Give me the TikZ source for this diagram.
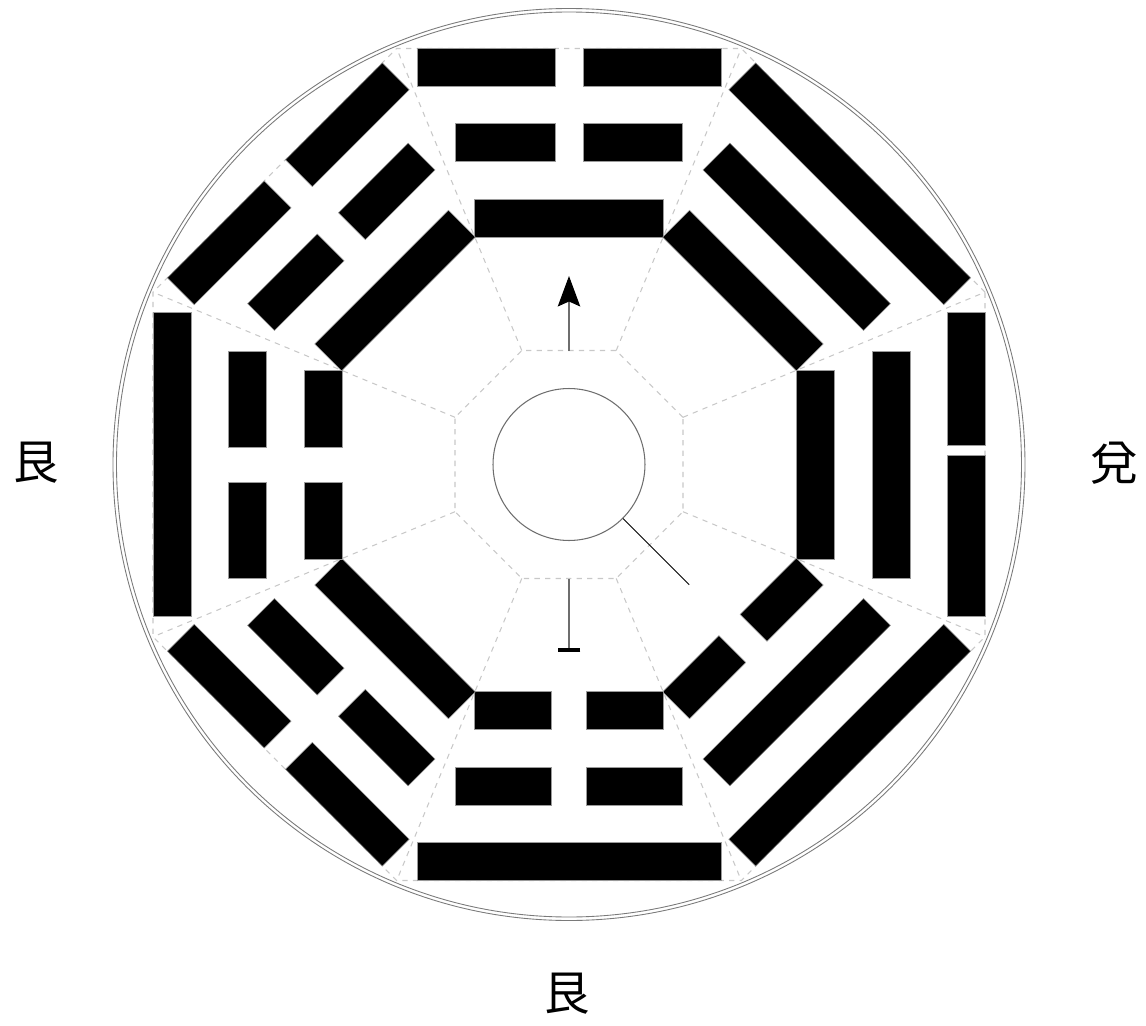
\documentclass[tikz,border=0pt]{standalone}
\usepackage{fontspec}
\newfontfamily\cjk{Noto Sans CJK JP}
\usepackage{xcolor}
\usepackage{tikz}
\usetikzlibrary{arrows.meta}
\definecolor{baguarim}{HTML}{7A7A7A}
\definecolor{baguadash}{HTML}{C8C8C8}
\definecolor{baguaaxis}{HTML}{6E6E6E}
\definecolor{baguaedge}{HTML}{9A9A9A}

\tikzset{
  yaobar/.style={fill=black,draw=baguaedge,line width=0.3pt},
  sector/.style={draw=baguadash,dashed,line width=0.6pt},
  rim/.style={draw=baguarim,line width=0.5pt},
  axisline/.style={draw=baguaaxis,line width=0.6pt},
  trigramlabel/.style={font=\cjk\fontsize{27}{27}\selectfont,inner sep=0pt}
}

% one line of a trigram: radius, length, 1 = solid / 0 = broken, gap, gap offset
\newcommand{\bagline}[5]{%
  \ifnum#3=1
    \path[yaobar] (-#2/2,#1-19) rectangle (#2/2,#1+19);
  \else
    \path[yaobar] (-#2/2,#1-19) rectangle (#5-#4/2,#1+19);
    \path[yaobar] (#5+#4/2,#1-19) rectangle (#2/2,#1+19);
  \fi}

\begin{document}
\begin{tikzpicture}[x=0.02cm,y=0.02cm,>=Stealth]
    \useasboundingbox (-569,-560.5) rectangle (577,464.5);
    % double rim
    \draw[rim] (0,0) circle (456);
    \draw[rim] (0,0) circle (452.5);
    % dashed octagons and sector borders
    \draw[sector] (22.5:123.4) \foreach \k in {1,...,7}{ -- (22.5+45*\k:123.4)} -- cycle;
    \draw[sector] (22.5:450.3) \foreach \k in {1,...,7}{ -- (22.5+45*\k:450.3)} -- cycle;
    \foreach \k in {0,...,7}
      \draw[sector] (22.5+45*\k:123.4) -- (22.5+45*\k:450.3);
    % trigrams, inner line first
    \foreach \ang/\yaoa/\yaob/\yaoc/\yaogap/\yaoshift in {90/1/0/0/28/0, 45/1/1/1/30/0, 0/1/1/0/10/-14,
        -45/0/1/1/30/0, -90/0/0/1/35/0, -135/1/0/0/30/0, 180/0/0/1/35/0, 135/1/0/0/30/0}{
      \begin{scope}[rotate=\ang-90]
        \bagline{246}{189}{\yaoa}{\yaogap}{\yaoshift}
        \bagline{322}{227}{\yaob}{\yaogap}{\yaoshift}
        \bagline{397}{304}{\yaoc}{\yaogap}{\yaoshift}
      \end{scope}
    }
    % hub and axis
    \node[circle,draw=baguaaxis,line width=0.6pt,minimum size=3.04cm,inner sep=0pt] (hub) at (0,0) {};
    \coordinate (upfoot) at (90:114);
    \coordinate (uptip) at (90:188.5);
    \coordinate (downfoot) at (-90:114);
    \coordinate (downend) at (-90:187.5);
    \coordinate (spoke) at (-45:170);
    \draw[axisline,-{Stealth[black,length=0.61cm,width=0.45cm,inset=0.1cm]}] (upfoot) -- (uptip);
    \draw[axisline,-{Bar[black,width=0.46cm,line width=2.3pt]}] (downfoot) -- (downend);
    \draw[black,line width=0.6pt] (hub.-45) -- (spoke);
    % labels
    \node[trigramlabel] (genwest) at (-533,1.5) {艮};
    \node[trigramlabel] (dueast) at (545,1.5) {兌};
    \node[trigramlabel] (gensouth) at (-1.5,-529) {艮};
\end{tikzpicture}
\end{document}
